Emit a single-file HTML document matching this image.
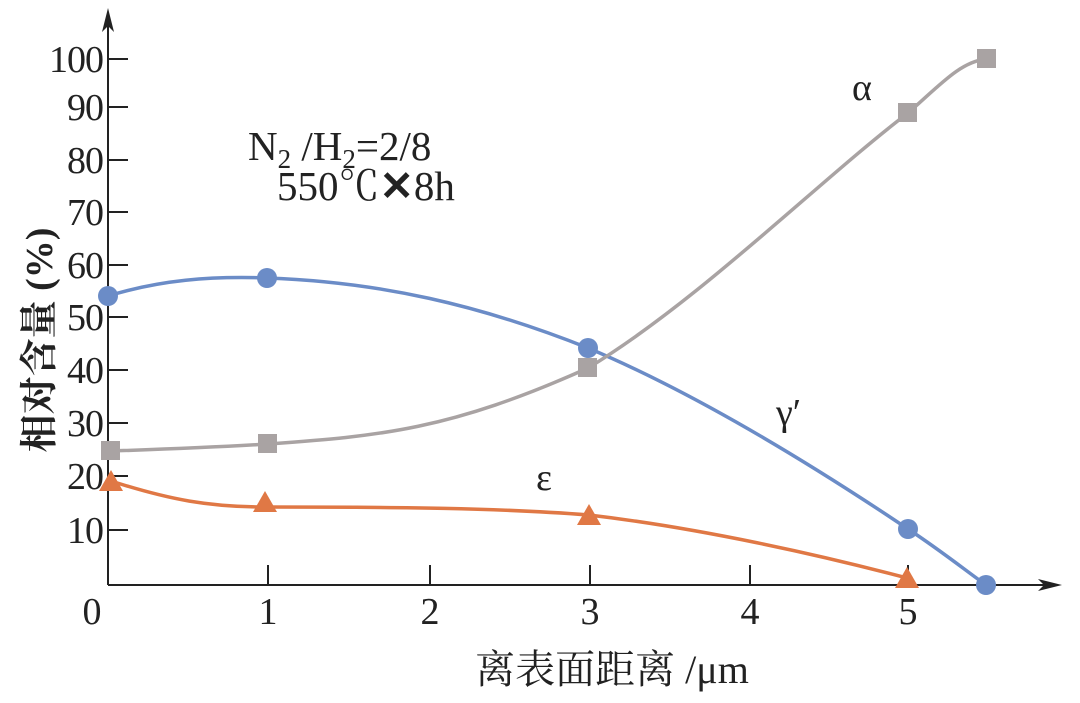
<!DOCTYPE html>
<html><head><style>body{margin:0;background:#fff}svg{display:block}</style></head><body>
<svg width="1080" height="703" xmlns="http://www.w3.org/2000/svg" font-family="'Liberation Serif','Noto Serif CJK SC',serif">
<g stroke="#222" stroke-width="2" fill="none">
<line x1="108" y1="585" x2="108" y2="20"/>
<line x1="108" y1="585" x2="1050" y2="585"/>
<line x1="108" y1="59" x2="128" y2="59"/><line x1="108" y1="107" x2="128" y2="107"/>
<line x1="108" y1="160" x2="128" y2="160"/><line x1="108" y1="212" x2="128" y2="212"/>
<line x1="108" y1="265" x2="128" y2="265"/><line x1="108" y1="317" x2="128" y2="317"/>
<line x1="108" y1="370" x2="128" y2="370"/><line x1="108" y1="423" x2="128" y2="423"/>
<line x1="108" y1="476" x2="128" y2="476"/><line x1="108" y1="530" x2="128" y2="530"/>
<line x1="268" y1="565" x2="268" y2="585"/><line x1="430" y1="565" x2="430" y2="585"/>
<line x1="590" y1="565" x2="590" y2="585"/><line x1="750" y1="565" x2="750" y2="585"/>
<line x1="908" y1="565" x2="908" y2="585"/>
</g>
<polygon points="108,8 102,32 108,26 114,32" fill="#222"/>
<polygon points="1062,585 1038,579 1044,585 1038,591" fill="#222"/>
<g font-size="38" fill="#222" text-anchor="end" letter-spacing="-1">
<text x="103" y="72">100</text><text x="103" y="120">90</text><text x="103" y="173">80</text>
<text x="103" y="225">70</text><text x="103" y="278">60</text><text x="103" y="330">50</text>
<text x="103" y="383">40</text><text x="103" y="436">30</text><text x="103" y="489">20</text>
<text x="103" y="543">10</text>
</g>
<g font-size="38" fill="#222" text-anchor="middle">
<text x="92" y="624">0</text><text x="268" y="624">1</text><text x="430" y="624">2</text>
<text x="590" y="624">3</text><text x="750" y="624">4</text><text x="908" y="624">5</text>
</g>
<text x="612" y="683" font-size="40" text-anchor="middle" fill="#222">离表面距离 /μm</text>
<text transform="translate(52,340) rotate(-90)" font-size="38" font-weight="bold" text-anchor="middle" fill="#222">相对含量 (%)</text>
<text x="248" y="160" font-size="41" fill="#222">N<tspan font-size="27" dy="8">2</tspan><tspan dy="-8"> /H</tspan><tspan font-size="27" dy="8">2</tspan><tspan dy="-8">=2/8</tspan></text>
<text x="277" y="200" font-size="41" fill="#222">550℃<tspan font-weight="bold">✕</tspan>8h</text>
<text x="852" y="100" font-size="38" fill="#222">α</text>
<text x="776" y="425" font-size="38" fill="#222">γ′</text>
<text x="536" y="490" font-size="38" fill="#222">ε</text>
<path d="M108,296 C160,280 210,276 267,278 C380,282 480,305 588,348 C700,395 820,470 908,529 C940,550 965,570 986,585" stroke="#6b8cc7" stroke-width="3.5" fill="none"/>
<path d="M111,451 C170,449 220,447 268,444 C380,436 450,430 588,368 C700,300 820,180 908,113 C940,85 960,62 986,59" stroke="#a9a3a3" stroke-width="3.5" fill="none"/>
<path d="M111,481 C170,500 210,507 265,507 C400,507 500,508 589,515 C700,528 820,555 907,578" stroke="#e07845" stroke-width="3.5" fill="none"/>
<g fill="#6b8cc7"><circle cx="108" cy="296" r="10"/><circle cx="267" cy="278" r="10"/><circle cx="588" cy="348" r="10"/><circle cx="908" cy="529" r="10"/><circle cx="986" cy="585" r="10"/></g>
<g fill="#a9a3a3"><rect x="101" y="441" width="19" height="19"/><rect x="258" y="434" width="19" height="19"/><rect x="578" y="358" width="19" height="19"/><rect x="898" y="103" width="19" height="19"/><rect x="977" y="49" width="19" height="19"/></g>
<g fill="#e07845"><polygon points="111,470 99,491 123,491"/><polygon points="265,491 253,512 277,512"/><polygon points="589,504 577,525 601,525"/><polygon points="907,567 895,588 919,588"/></g>
</svg>
</body></html>
